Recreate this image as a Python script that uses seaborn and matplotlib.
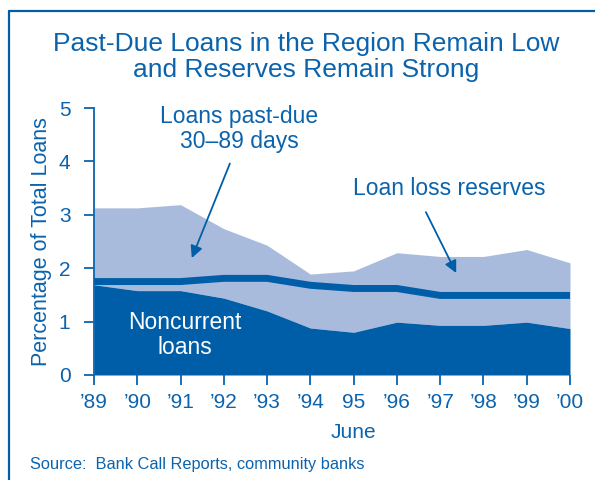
import matplotlib
matplotlib.use("Agg")
import matplotlib.pyplot as plt
import seaborn as sns
import pandas as pd
from matplotlib.lines import Line2D

years = [1989, 1990, 1991, 1992, 1993, 1994, 1995, 1996, 1997, 1998, 1999, 2000]
tick_labels = ["\u201989", "\u201990", "\u201991", "\u201992", "\u201993", "\u201994",
               "95", "\u201996", "\u201997", "\u201998", "\u201999", "\u201900"]
noncurrent = [1.69, 1.58, 1.58, 1.44, 1.20, 0.88, 0.80, 0.99, 0.93, 0.93, 0.99, 0.87]
past_due = [1.44, 1.55, 1.61, 1.30, 1.23, 1.01, 1.15, 1.30, 1.29, 1.29, 1.36, 1.23]
reserves = [1.75, 1.75, 1.75, 1.81, 1.81, 1.68, 1.62, 1.62, 1.49, 1.49, 1.49, 1.49]

DARK = "#005EA8"
LIGHT = "#A9BBDD"
TEXT = "#0B63AD"

sns.set_theme(style="white")
plt.rcParams["font.family"] = ["Liberation Sans", "DejaVu Sans"]

df = pd.DataFrame({"year": years, "noncurrent": noncurrent,
                   "past_due": past_due, "reserves": reserves})
df["total"] = df["noncurrent"] + df["past_due"]

fig = plt.figure(figsize=(5.95, 4.8), dpi=100)
ax = fig.add_axes([94 / 595, 105 / 480, 476 / 595, 267 / 480])

ax.fill_between(df["year"], df["noncurrent"], df["total"], color=LIGHT, lw=0)
ax.fill_between(df["year"], 0, df["noncurrent"], color=DARK, lw=0)
sns.lineplot(data=df, x="year", y="reserves", ax=ax, color=DARK, lw=5,
             solid_joinstyle="miter", solid_capstyle="butt")

ax.set_xlim(1989, 2000)
ax.set_ylim(0, 5)
ax.set_xticks(years)
ax.set_xticklabels(tick_labels)
ax.set_yticks([0, 1, 2, 3, 4, 5])
ax.tick_params(axis="both", colors=TEXT, labelcolor=TEXT, labelsize=15,
               length=7, width=1.3, direction="out", left=True, bottom=True)
ax.tick_params(axis="x", pad=6)
ax.tick_params(axis="y", pad=10)
for s in ["top", "right", "bottom"]:
    ax.spines[s].set_visible(False)
ax.spines["left"].set_color(TEXT)
ax.spines["left"].set_linewidth(1.3)
ax.set_xlabel("")
ax.set_ylabel("Percentage of Total Loans", color=TEXT, fontsize=15.5, labelpad=5)
ax.grid(False)

ax.text(1995, -1.07, "June", color=TEXT, fontsize=15, ha="center", va="center")

ax.text(1991.1, 0.75, "Noncurrent\nloans", color="white", fontsize=16.5,
        ha="center", va="center", linespacing=1.1)

ax.text(1992.35, 4.6, "Loans past-due\n30\u201389 days", color=TEXT, fontsize=16.5,
        ha="center", va="center", linespacing=1.1)
ax.annotate("", xy=(1991.26, 2.19), xytext=(1992.14, 3.96),
            arrowprops=dict(arrowstyle="-|>", color=DARK, lw=1.3,
                            mutation_scale=18, shrinkA=0, shrinkB=0))
ax.text(1997.2, 3.5, "Loan loss reserves", color=TEXT, fontsize=16.5,
        ha="center", va="center")
ax.annotate("", xy=(1997.37, 1.91), xytext=(1996.67, 3.05),
            arrowprops=dict(arrowstyle="-|>", color=DARK, lw=1.3,
                            mutation_scale=18, shrinkA=0, shrinkB=0))

fig.text(306 / 595, 1 - 57 / 480, "Past-Due Loans in the Region Remain Low\nand Reserves Remain Strong",
         color=TEXT, fontsize=19, ha="center", va="center", linespacing=1.15)
fig.text(30 / 595, 1 - 465 / 480, "Source:  Bank Call Reports, community banks",
         color=TEXT, fontsize=11.8, ha="left", va="center")

fig.add_artist(Line2D([9 / 595, 9 / 595], [0, 1 - 11 / 480], color=DARK, lw=1.6,
                      transform=fig.transFigure))
fig.add_artist(Line2D([9 / 595, 1], [1 - 11 / 480, 1 - 11 / 480], color=DARK, lw=1.6,
                      transform=fig.transFigure))

fig.savefig("out.png", dpi=100)
